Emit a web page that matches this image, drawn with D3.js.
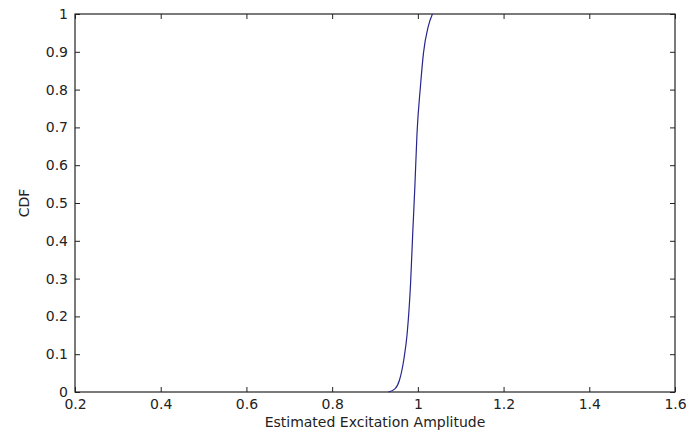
<!DOCTYPE html>
<html>
<head>
<meta charset="utf-8">
<script src="https://cdn.jsdelivr.net/npm/d3@7"></script>
<style>
  body { margin: 0; background: #fff; }
  text { font-family: "DejaVu Sans", "Liberation Sans", Arial, sans-serif; fill: #222; }
</style>
</head>
<body>
<script>
// values
const amplitude = [0.931, 0.947, 0.957, 0.967, 0.975, 0.983, 0.988, 0.993, 0.998, 1.006, 1.013, 1.024, 1.034];
const cdf       = [0.000, 0.009, 0.031, 0.084, 0.154, 0.287, 0.419, 0.543, 0.684, 0.808, 0.896, 0.966, 1.000];
const xTicks = [0.2, 0.4, 0.6, 0.8, 1, 1.2, 1.4, 1.6];
const yTicks = [0, 0.1, 0.2, 0.3, 0.4, 0.5, 0.6, 0.7, 0.8, 0.9, 1];

const width = 688, height = 432;
const margin = {top: 14, right: 13, bottom: 40, left: 75};

const x = d3.scaleLinear().domain([0.2, 1.6]).range([margin.left, width - margin.right]);
const y = d3.scaleLinear().domain([0, 1]).range([height - margin.bottom, margin.top]);

const svg = d3.select('body').append('svg')
    .attr('width', width)
    .attr('height', height);

const fmt = d => String(d);
const tickLen = 5;

// ticks point inward on all four sides, like matlab's box
svg.append('g')
    .attr('transform', `translate(0,${y(0)})`)
    .call(d3.axisBottom(x).tickValues(xTicks).tickFormat(fmt).tickSizeInner(-tickLen).tickSizeOuter(0).tickPadding(7))
    .call(g => g.select('.domain').remove());

svg.append('g')
    .attr('transform', `translate(0,${y(1)})`)
    .call(d3.axisTop(x).tickValues(xTicks).tickFormat('').tickSizeInner(-tickLen).tickSizeOuter(0))
    .call(g => g.select('.domain').remove());

svg.append('g')
    .attr('transform', `translate(${x(0.2)},0)`)
    .call(d3.axisLeft(y).tickValues(yTicks).tickFormat(fmt).tickSizeInner(-tickLen).tickSizeOuter(0).tickPadding(7))
    .call(g => g.select('.domain').remove());

svg.append('g')
    .attr('transform', `translate(${x(1.6)},0)`)
    .call(d3.axisRight(y).tickValues(yTicks).tickFormat('').tickSizeInner(-tickLen).tickSizeOuter(0))
    .call(g => g.select('.domain').remove());

svg.selectAll('.tick line').attr('stroke', '#222');
svg.selectAll('.tick text').style('font-size', '14px').attr('fill', '#222');

// box
svg.append('rect')
    .attr('x', x(0.2))
    .attr('y', y(1))
    .attr('width', x(1.6) - x(0.2))
    .attr('height', y(0) - y(1))
    .attr('fill', 'none')
    .attr('stroke', '#222')
    .attr('stroke-width', 1.2);

// curve
const points = amplitude.map((a, i) => [a, cdf[i]]);
svg.append('path')
    .datum(points)
    .attr('d', d3.line().x(d => x(d[0])).y(d => y(d[1])).curve(d3.curveMonotoneX))
    .attr('fill', 'none')
    .attr('stroke', '#26268c')
    .attr('stroke-width', 1.2);

// labels
svg.append('text')
    .attr('x', (x(0.2) + x(1.6)) / 2)
    .attr('y', 427)
    .attr('text-anchor', 'middle')
    .style('font-size', '14px')
    .text('Estimated Excitation Amplitude');

svg.append('text')
    .attr('transform', `translate(29,${(y(0) + y(1)) / 2}) rotate(-90)`)
    .attr('text-anchor', 'middle')
    .style('font-size', '14px')
    .text('CDF');
</script>
</body>
</html>
